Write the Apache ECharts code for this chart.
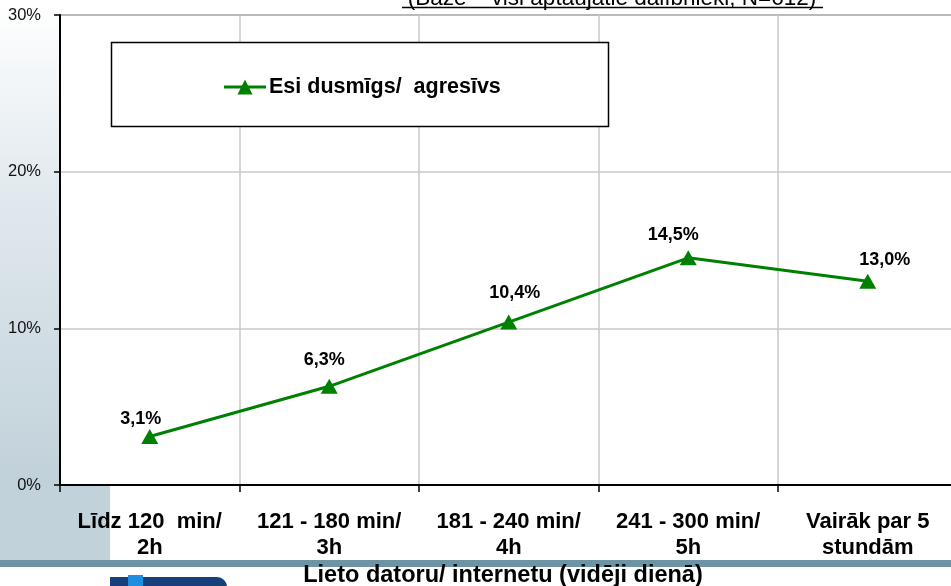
<!DOCTYPE html>
<html>
<head>
<meta charset="utf-8">
<script src="https://cdn.jsdelivr.net/npm/echarts@6/dist/echarts.min.js"></script>
<style>
html,body{margin:0;padding:0;background:#fff;}
#chart{width:951px;height:586px;}
</style>
</head>
<body>
<div id="chart"></div>
<script>
const categories = ['Līdz 120  min/\n2h', '121 - 180 min/\n3h', '181 - 240 min/\n4h', '241 - 300 min/\n5h', 'Vairāk par 5\nstundām'];
const seriesName = 'Esi dusmīgs/  agresīvs';
const values = [3.1, 6.3, 10.4, 14.5, 13.0];
const yTicks = [0, 10, 20, 30];
const subtitle = '(Bāze – visi aptaujātie dalībnieki; N=612)';
const xTitle = 'Lieto datoru/ internetu (vidēji dienā)';

const FONT = '"Liberation Sans", Arial, sans-serif';
const labelNudge = [[-9, 5], [-5, -4], [6, -7], [-15, 0], [17, 1]];

const chart = echarts.init(document.getElementById('chart'), null, {renderer: 'canvas'});

const option = {
  animation: false,
  backgroundColor: '#ffffff',
  textStyle: {fontFamily: FONT},
  grid: {left: 60, top: 15, width: 897.5, height: 470, outerBoundsMode: 'none', containLabel: false,
    show: true, borderColor: '#8a8a8a', borderWidth: 2, backgroundColor: 'transparent'},
  legend: {
    data: [{name: seriesName, icon: 'path://M0,7 H42 V10 H0 Z M13.5,16 L21,1 L28.5,16 Z'}],
    left: 219, top: 71,
    itemWidth: 42, itemHeight: 16,
    textStyle: {fontFamily: FONT, fontSize: 21.5, fontWeight: 'bold', color: '#000', padding: [0, 0, 0, -2]},
    itemGap: 4
  },
  xAxis: {
    type: 'category',
    data: categories,
    boundaryGap: true,
    axisLine: {lineStyle: {color: '#000', width: 2}},
    axisTick: {show: true, length: 7, lineStyle: {color: '#000', width: 1.5}},
    splitLine: {show: true, lineStyle: {color: '#c8c8c8', width: 1.5}},
    axisLabel: {fontFamily: FONT, fontSize: 22, fontWeight: 'bold', color: '#000', margin: 24, lineHeight: 26, interval: 0}
  },
  yAxis: {
    type: 'value',
    min: yTicks[0], max: yTicks[yTicks.length - 1], interval: 10,
    axisLine: {show: true, lineStyle: {color: '#000', width: 2}},
    axisTick: {show: true, length: 6, lineStyle: {color: '#000', width: 1.5}},
    splitLine: {show: true, lineStyle: {color: '#c8c8c8', width: 1.5}},
    axisLabel: {fontFamily: FONT, fontSize: 16.5, color: '#111', margin: 19, formatter: '{value}%'}
  },
  series: [{
    name: seriesName,
    type: 'line',
    data: values.map((v, i) => ({value: v, label: {offset: labelNudge[i]}})),
    color: '#008000',
    lineStyle: {color: '#008000', width: 3},
    itemStyle: {color: '#008000'},
    symbol: 'triangle',
    symbolSize: [17, 15],
    z: 5,
    label: {
      show: true, position: 'top', distance: 6,
      fontFamily: FONT, fontSize: 18, fontWeight: 'bold', color: '#000',
      formatter: p => p.value.toFixed(1).replace('.', ',') + '%'
    }
  }],
  graphic: [
    {type: 'rect', z: -10, shape: {x: 0, y: 0, width: 60, height: 485},
      style: {fill: new echarts.graphic.LinearGradient(0, 0, 0, 1, [{offset: 0, color: '#ffffff'}, {offset: 0.4, color: '#e1e9ee'}, {offset: 1, color: '#c1d1d9'}])}},
    {type: 'rect', z: -10, shape: {x: 0, y: 485, width: 110, height: 75}, style: {fill: '#c2d2da'}},
    {type: 'rect', z: -10, shape: {x: 0, y: 560, width: 951, height: 7}, style: {fill: '#6d94a4'}},
    {type: 'rect', z: -10, shape: {x: 110, y: 577, width: 117, height: 20, r: [0, 10, 0, 0]}, style: {fill: '#15407c'}},
    {type: 'rect', z: -9, shape: {x: 128, y: 575, width: 15, height: 15}, style: {fill: '#1e8fe0'}},
    {type: 'rect', z: 1, shape: {x: 111.5, y: 42.5, width: 497, height: 84}, style: {fill: '#ffffff', stroke: '#000', lineWidth: 1.5}},
    {type: 'text', z: 2, x: 612, y: 10, style: {text: subtitle, fontFamily: FONT, fontSize: 22.5, fill: '#000', textAlign: 'center', textVerticalAlign: 'bottom'}},
    {type: 'line', z: 2, shape: {x1: 402, y1: 7.5, x2: 823, y2: 7.5}, style: {stroke: '#000', lineWidth: 1.5}},
    {type: 'text', z: 2, x: 503, y: 576, style: {text: xTitle, fontFamily: FONT, fontSize: 23.5, fontWeight: 'bold', fill: '#000', textAlign: 'center', textVerticalAlign: 'middle'}}
  ]
};
chart.setOption(option);
</script>
</body>
</html>
